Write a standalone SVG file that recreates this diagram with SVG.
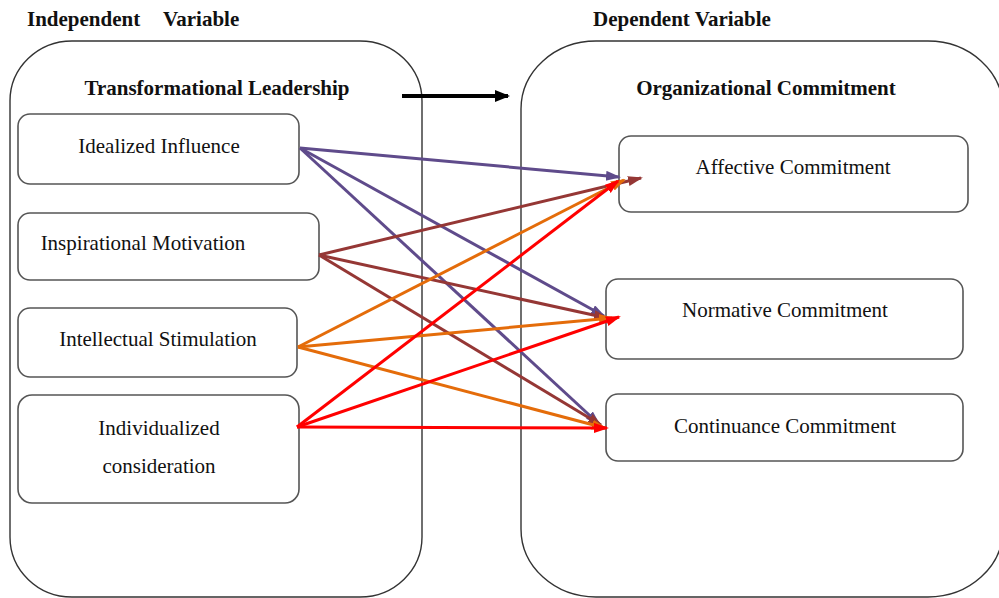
<svg xmlns="http://www.w3.org/2000/svg" width="999" height="598" viewBox="0 0 999 598">
  <style>
    .hdr { font-family: "Liberation Serif", "Times New Roman", serif; font-size: 21px; font-weight: bold; fill: #111; }
    .lbl { font-family: "Liberation Serif", "Times New Roman", serif; font-size: 21px; fill: #111; text-anchor: middle; }
    .outer { fill: none; stroke: #333; stroke-width: 1.4; }
    .box { fill: #fff; stroke: #555; stroke-width: 1.6; }
    .link { fill: none; stroke-width: 3; }
  </style>
  <defs>
    <marker id="ah-purple" markerUnits="userSpaceOnUse" markerWidth="16" markerHeight="12" refX="13" refY="5" orient="auto">
      <path d="M0,0 L15,5 L0,10 z" fill="#5f4b8b"/>
    </marker>
    <marker id="ah-brown" markerUnits="userSpaceOnUse" markerWidth="16" markerHeight="12" refX="13" refY="5" orient="auto">
      <path d="M0,0 L15,5 L0,10 z" fill="#953735"/>
    </marker>
    <marker id="ah-orange" markerUnits="userSpaceOnUse" markerWidth="16" markerHeight="12" refX="13" refY="5" orient="auto">
      <path d="M0,0 L15,5 L0,10 z" fill="#e46c0a"/>
    </marker>
    <marker id="ah-red" markerUnits="userSpaceOnUse" markerWidth="16" markerHeight="12" refX="13" refY="5" orient="auto">
      <path d="M0,0 L15,5 L0,10 z" fill="#ff0000"/>
    </marker>
    <marker id="ah-black" markerUnits="userSpaceOnUse" markerWidth="16" markerHeight="14" refX="13" refY="6" orient="auto">
      <path d="M0,0 L15,6 L0,12 z" fill="#000"/>
    </marker>
  </defs>

  <rect width="999" height="598" fill="#fff"/>

  <!-- column headings -->
  <text class="hdr" x="27" y="26">Independent</text>
  <text class="hdr" x="163" y="26">Variable</text>
  <text class="hdr" x="593" y="26">Dependent Variable</text>

  <!-- independent variable container -->
  <g id="transformational-leadership">
    <rect class="outer" x="10" y="41" width="412" height="556" rx="62" ry="60"/>
    <text class="hdr" x="217" y="95" text-anchor="middle">Transformational Leadership</text>
  </g>

  <!-- dependent variable container -->
  <g id="organizational-commitment">
    <rect class="outer" x="521" y="41" width="482" height="556" rx="75" ry="68"/>
    <text class="hdr" x="766" y="95" text-anchor="middle">Organizational Commitment</text>
  </g>

  <g id="idealized-influence">
    <rect class="box" x="18" y="114" width="281" height="70" rx="12"/>
    <text class="lbl" x="159" y="153">Idealized Influence</text>
  </g>
  <g id="inspirational-motivation">
    <rect class="box" x="18" y="213" width="301" height="67" rx="12"/>
    <text class="lbl" x="143" y="250">Inspirational Motivation</text>
  </g>
  <g id="intellectual-stimulation">
    <rect class="box" x="18" y="308" width="279" height="69" rx="12"/>
    <text class="lbl" x="158" y="346">Intellectual Stimulation</text>
  </g>
  <g id="individualized-consideration">
    <rect class="box" x="18" y="395" width="281" height="108" rx="14"/>
    <text class="lbl" x="159" y="435">Individualized</text>
    <text class="lbl" x="159" y="473">consideration</text>
  </g>

  <g id="affective-commitment">
    <rect class="box" x="619" y="136" width="349" height="76" rx="12"/>
    <text class="lbl" x="793" y="174">Affective Commitment</text>
  </g>
  <g id="normative-commitment">
    <rect class="box" x="606" y="279" width="357" height="80" rx="12"/>
    <text class="lbl" x="785" y="317">Normative Commitment</text>
  </g>
  <g id="continuance-commitment">
    <rect class="box" x="606" y="394" width="357" height="67" rx="12"/>
    <text class="lbl" x="785" y="433">Continuance Commitment</text>
  </g>

  <!-- connectors -->
  <g id="connectors">
    <line x1="402" y1="96" x2="508" y2="96" stroke="#000" stroke-width="4" marker-end="url(#ah-black)"/>

    <line class="link" stroke="#5f4b8b" x1="300" y1="148" x2="619" y2="177" marker-end="url(#ah-purple)"/>
    <line class="link" stroke="#5f4b8b" x1="300" y1="148" x2="604" y2="316" marker-end="url(#ah-purple)"/>
    <line class="link" stroke="#5f4b8b" x1="300" y1="148" x2="599" y2="424" marker-end="url(#ah-purple)"/>

    <line class="link" stroke="#953735" x1="319" y1="255" x2="641" y2="178" marker-end="url(#ah-brown)"/>
    <line class="link" stroke="#953735" x1="319" y1="255" x2="607" y2="318" marker-end="url(#ah-brown)"/>
    <line class="link" stroke="#953735" x1="319" y1="255" x2="601" y2="425" marker-end="url(#ah-brown)"/>

    <line class="link" stroke="#e46c0a" x1="298" y1="347" x2="624" y2="180" marker-end="url(#ah-orange)"/>
    <line class="link" stroke="#e46c0a" x1="298" y1="347" x2="612" y2="318" marker-end="url(#ah-orange)"/>
    <line class="link" stroke="#e46c0a" x1="298" y1="347" x2="605" y2="428" marker-end="url(#ah-orange)"/>

    <line class="link" stroke="#ff0000" x1="297" y1="427" x2="618" y2="181" marker-end="url(#ah-red)"/>
    <line class="link" stroke="#ff0000" x1="297" y1="427" x2="619" y2="317" marker-end="url(#ah-red)"/>
    <line class="link" stroke="#ff0000" x1="297" y1="427" x2="607" y2="428" marker-end="url(#ah-red)"/>
  </g>
</svg>
